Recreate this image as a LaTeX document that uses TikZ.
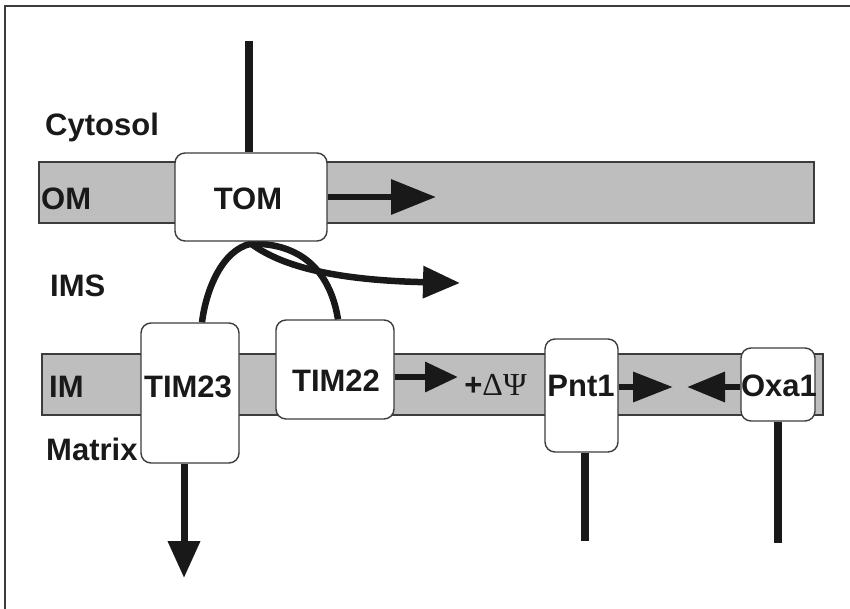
\documentclass[tikz,border=0pt]{standalone}
\usepackage{fontspec}
\setmainfont{Liberation Sans}
\newfontfamily\greekfont{Liberation Serif}
\usetikzlibrary{arrows.meta,calc}
\pgfdeclarelayer{bg}
\pgfdeclarelayer{lines}
\pgfsetlayers{bg,lines,main}
\definecolor{bandgray}{RGB}{190,190,190}
\definecolor{edgegray}{RGB}{60,60,60}
\definecolor{inkcol}{RGB}{25,25,25}
\tikzset{
  band/.style={fill=bandgray, draw=edgegray, line width=1.3pt},
  box/.style={draw=edgegray, fill=white, line width=1.4pt, rounded corners=10pt, inner sep=0pt},
  lbl/.style={inner sep=0pt, text=inkcol, font=\fontsize{31}{37}\selectfont\bfseries},
  heavy/.style={draw=inkcol, line width=6.5pt},
  tail/.style={draw=inkcol, line width=7.5pt},
}
\begin{document}
\begin{tikzpicture}[x=1pt,y=-1pt]
\useasboundingbox (0,0) rectangle (850,609);
% frame
\draw[edgegray, line width=2pt] (4.5,609) -- (4.5,6) -- (850,6);
% membranes
\begin{pgfonlayer}{bg}
\draw[band] (39,162) rectangle (814,223);
\draw[band] (42,354) rectangle (823,415);
\end{pgfonlayer}
% boxes
\node[box, minimum width=152pt, minimum height=88pt] (tom) at (251,197) {};
\node[box, minimum width=98pt, minimum height=140pt] (tim23) at (190,393) {};
\node[box, minimum width=118pt, minimum height=99pt] (tim22) at (335,369.5) {};
\node[box, minimum width=73pt, minimum height=113pt] (pnt1) at (581.5,395.5) {};
\node[box, minimum width=74pt, minimum height=73pt] (oxa1) at (778,384.5) {};
% labels
\node[lbl, anchor=base west] (cyto) at (45,136) {Cytosol};
\node[lbl, anchor=base west] (om) at (41,210) {OM};
\node[lbl, anchor=base west] (ims) at (50,296) {IMS};
\node[lbl, anchor=base west] (im) at (49,397) {IM};
\node[lbl, anchor=base west] (matrix) at (46,460) {Matrix};
\node[lbl, anchor=base] (tomt) at (248,210) {TOM};
\node[lbl, anchor=base] (tim23t) at (188,397) {TIM23};
\node[lbl, anchor=base] (tim22t) at (336,391) {TIM22};
\node[lbl, anchor=base] (pnt1t) at (581,396) {Pnt1};
\node[lbl, anchor=base] (oxa1t) at (779,396) {Oxa1};
\node[inner sep=0pt, text=inkcol, anchor=base] (dpsi) at (495.5,395)
  {\fontsize{31}{37}\selectfont\bfseries +\greekfont\mdseries\fontsize{32}{38}\selectfont ΔΨ};
% coordinates
\coordinate (tomtop) at (249,41);
\coordinate (apex) at ($(tom.south)+(0,2)$);
\coordinate (imsend) at (460,283);
\coordinate (omend) at (436,197);
\coordinate (tim22end) at (458,377);
\coordinate (pnt1end) at (673,387);
\coordinate (oxa1end) at (687,387);
\coordinate (pnt1low) at (585,541);
\coordinate (oxa1low) at (778,543);
\coordinate (matrixend) at (184,578);
% connectors
\begin{pgfonlayer}{lines}
\draw[tail] (tomtop) -- (tomtop |- tom.north);
\draw[heavy] ($(tim23.north)+(12,0)$) .. controls (206,290) and (222,250) .. (apex)
  .. controls (300,243) and (330,270) .. ($(tim22.north)+(3,0)$);
\draw[heavy, -{Triangle[length=37pt,width=31pt]}] (apex) .. controls (280,265) and (330,280) .. (imsend);
\draw[heavy, -{Triangle[length=45pt,width=34pt]}] (tom.east) -- (omend);
\draw[heavy, -{Triangle[length=33pt,width=29pt]}] ($(tim22.east)+(0,7.5)$) -- (tim22end);
\draw[heavy, -{Triangle[length=40pt,width=29pt]}] ($(pnt1.east)+(0,-8.5)$) -- (pnt1end);
\draw[heavy, -{Triangle[length=38pt,width=29pt]}] ($(oxa1.west)+(0,2.5)$) -- (oxa1end);
\draw[tail] ($(pnt1.south)+(3.5,0)$) -- (pnt1low);
\draw[tail] (oxa1.south) -- (oxa1low);
\draw[heavy, line width=7pt, -{Triangle[length=37pt,width=31pt]}] ($(tim23.south)+(-6,0)$) -- (matrixend);
\end{pgfonlayer}
\end{tikzpicture}
\end{document}
